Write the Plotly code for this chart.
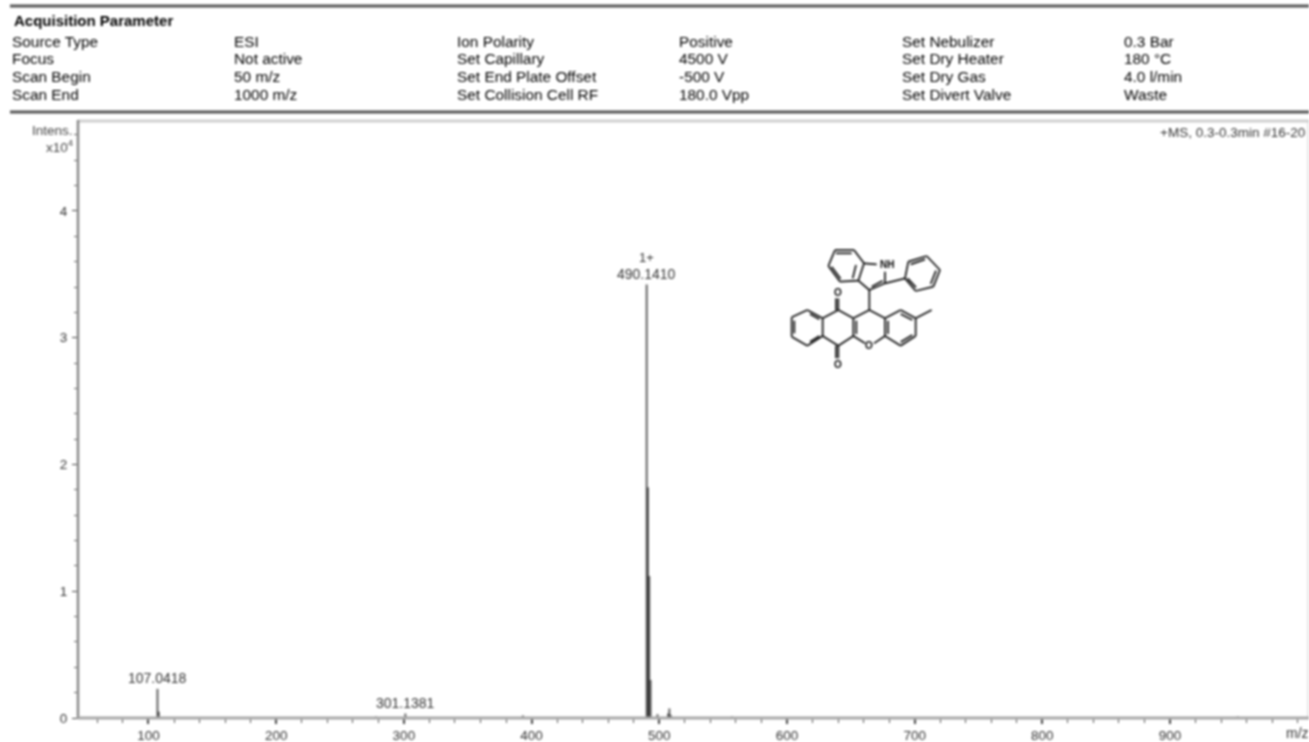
import plotly.graph_objects as go

# ---------- data ----------
peak_mz = [107.04, 108.05, 278.1, 301.14, 393.2, 490.14, 491.14, 492.14, 493.14, 498.6, 506.9, 507.9, 508.9, 535.0, 557.0, 953.0]
peak_int = [0.23, 0.05, 0.012, 0.035, 0.02, 3.42, 1.82, 1.12, 0.30, 0.03, 0.035, 0.075, 0.025, 0.008, 0.012, 0.012]
label_mz = [107.04, 301.14, 490.14]
label_int = [0.23, 0.035, 3.42]
label_text = ["107.0418", "301.1381", "490.1410"]
charge_mz = [490.14]
charge_int = [3.42]
charge_text = ["1+"]
x_ticks = [100, 200, 300, 400, 500, 600, 700, 800, 900]
y_ticks = [0, 1, 2, 3, 4]
header_title = "Acquisition Parameter"
header_rows = [
    ["Source Type", "ESI", "Ion Polarity", "Positive", "Set Nebulizer", "0.3 Bar"],
    ["Focus", "Not active", "Set Capillary", "4500 V", "Set Dry Heater", "180 °C"],
    ["Scan Begin", "50 m/z", "Set End Plate Offset", "-500 V", "Set Dry Gas", "4.0 l/min"],
    ["Scan End", "1000 m/z", "Set Collision Cell RF", "180.0 Vpp", "Set Divert Valve", "Waste"],
]

# ---------- layout constants ----------
W, H = 1309, 742
L, T, B = 78, 122, 718
def px(x): return (x - L) / (W - L)
def py(y): return (B - y) / (B - T)

fig = go.Figure()
for m, v in zip(peak_mz, peak_int):
    fig.add_trace(go.Scatter(x=[m, m], y=[0, v], mode="lines", line=dict(color="rgba(0,0,0,0.62)", width=2),
                             hoverinfo="skip", showlegend=False))

FONT = "Liberation Sans, Arial, sans-serif"
ann = []
def text(x, y, s, size=11.5, color="#222222", anchor="left", bold=False):
    ann.append(dict(xref="paper", yref="paper", x=px(x), y=py(y), text=f"<b>{s}</b>" if bold else s,
                    showarrow=False, xanchor=anchor, yanchor="middle",
                    font=dict(family=FONT, size=size, color=color), borderpad=0, borderwidth=0))

text(14, 20, header_title, size=15, color="#000000", bold=True)
cols = [12, 234, 457, 679, 902, 1124]
rows = [42, 59, 77, 95]
for r, row in zip(rows, header_rows):
    for c, s in zip(cols, row):
        text(c, r, s, size=15.4, color="#000000")

text(1160, 132, "+MS, 0.3-0.3min #16-20", size=13.5, color="#333333")
text(73, 130, "Intens.", size=13.5, color="#444444", anchor="right")
text(73, 146, "x10<sup>4</sup>", size=13.5, color="#444444", anchor="right")
text(1309, 733, "m/z", size=14, color="#333333", anchor="right")

for m, v, s in zip(label_mz, label_int, label_text):
    ann.append(dict(x=m, y=v, xref="x", yref="y", text=s, showarrow=False, yanchor="bottom",
                    xanchor="center", yshift=1, font=dict(family=FONT, size=14, color="#333333")))
for m, v, s in zip(charge_mz, charge_int, charge_text):
    ann.append(dict(x=m, y=v, xref="x", yref="y", text=s, showarrow=False, yanchor="bottom",
                    xanchor="center", yshift=18, font=dict(family=FONT, size=13, color="#333333")))

# molecule sketch (zoom-crop coordinates of the inset drawing)
def mx(z): return 750 + z / 3
def my(z): return 230 + z / 3
rings = [
    [(125,262),(172,240),(218,265),(218,318),(172,347),(125,320),(125,262)],
    [(218,265),(265,240),(310,265),(310,318),(265,347),(218,318)],
    [(310,318),(345,340)], [(372,340),(405,318)],
    [(310,265),(358,240),(405,265),(405,318)],
    [(405,265),(452,240),(497,265),(497,318),(452,347),(405,318)],
    [(497,265),(545,240)],
    [(265,240),(265,205)], [(265,347),(265,385)],
    [(358,240),(358,180)],
    [(255,60),(312,60),(342,100),(325,152),(270,155),(235,108),(255,60)],
    [(342,100),(380,103)], [(325,152),(358,180),(405,160),(405,125)],
    [(405,160),(465,145)],
    [(465,145),(475,95),(530,78),(570,120),(550,170),(497,183),(465,145)],
    [(133,272),(133,310)], [(180,252),(208,268)], [(180,335),(208,318)],
    [(319,272),(319,312)], [(414,272),(414,312)], [(452,252),(487,270)], [(452,336),(487,315)],
    [(258,70),(305,70)], [(318,105),(308,145)], [(245,110),(272,146)],
    [(365,170),(398,152)], [(482,103),(525,88)], [(558,122),(542,162)], [(498,172),(473,145)],
    [(258,240),(258,205)], [(258,347),(258,385)],
]
shapes = []
for seg in rings:
    for (a, b), (c, d) in zip(seg[:-1], seg[1:]):
        shapes.append(dict(type="line", xref="paper", yref="paper", x0=px(mx(a)), y0=py(my(b)),
                           x1=px(mx(c)), y1=py(my(d)), line=dict(color="#111111", width=1.7)))
for zx, zy, s in [(265,188,"O"), (265,402,"O"), (358,347,"O"), (410,103,"NH")]:
    text(mx(zx), my(zy), s, size=10, color="#000000", anchor="center", bold=True)

# frames and rules
def rule(x0, y0, x1, y1, color, width):
    shapes.append(dict(type="line", xref="paper", yref="paper", x0=px(x0), y0=py(y0), x1=px(x1), y1=py(y1),
                       line=dict(color=color, width=width)))
rule(10, 6, W, 6, "#555555", 3)
rule(10, 112, W, 112, "#555555", 3)
rule(L, 121, W, 121, "#cfcfcf", 3)
rule(W - 1, T, W - 1, B, "#d0d0d0", 1)
rule(L, T - 2, L, B + 1, "#888888", 2.5)
rule(L, B, W, B, "#a8a8a8", 3)

axis_font = dict(family=FONT, size=13.5, color="#333333")
fig.update_layout(
    width=W, height=H, autosize=False, paper_bgcolor="white", plot_bgcolor="white",
    margin=dict(l=L, r=0, t=T, b=H - B, pad=0),
    annotations=ann, shapes=shapes, showlegend=False,
    xaxis=dict(range=[44.8, 1008.8], tickmode="array", tickvals=x_ticks, ticks="outside", ticklen=5,
               tickcolor="#444444", tickwidth=1.5, showgrid=False, zeroline=False, showline=False,
               tickfont=axis_font,
               minor=dict(dtick=20, tick0=0, ticks="outside", ticklen=4, tickcolor="#555555", tickwidth=1.3, showgrid=False)),
    yaxis=dict(range=[0, 4.702], tickmode="array", tickvals=y_ticks, ticks="outside", ticklen=5,
               tickcolor="#444444", tickwidth=1.3, showgrid=False, zeroline=False, showline=False,
               tickfont=axis_font, ticklabelstandoff=2,
               minor=dict(dtick=0.2, tick0=0, ticks="outside", ticklen=3, tickcolor="#666666", tickwidth=1.3, showgrid=False)),
)
fig.write_html("out.html", config={"displayModeBar": False},
               post_script="document.body.style.margin='0';document.body.style.overflow='hidden';"
                           "document.querySelector('.plotly-graph-div').style.filter='blur(0.8px)';")
